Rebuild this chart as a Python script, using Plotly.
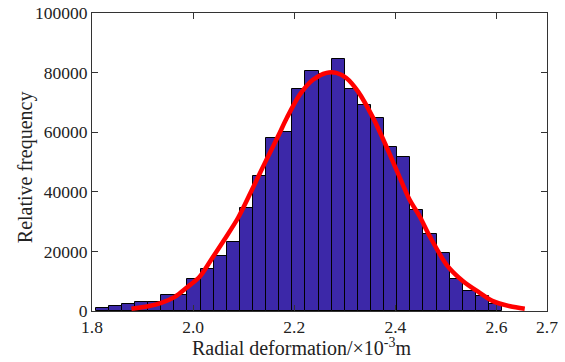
import plotly.graph_objects as go

# Histogram: bin edges start and width (x in 10^-3 m)
bin_start = 1.8073
bin_width = 0.02593
counts = [1070, 1600, 2200, 3100, 3100, 5500, 5500, 10900, 14000, 18600,
          23200, 34600, 45400, 58200, 60100, 74500, 80600, 79500, 84600, 74500,
          69000, 64800, 55100, 51600, 33800, 25900, 19500, 10800, 6600, 5200, 2500]
bin_centers = [round(bin_start + bin_width * (i + 0.5), 5) for i in range(len(counts))]

# Fitted density curve
fit_x = [1.878, 1.911, 1.937, 1.964, 1.987, 2.013, 2.036, 2.062, 2.089, 2.115,
         2.142, 2.168, 2.186, 2.211, 2.237, 2.264, 2.283, 2.303, 2.326, 2.356,
         2.382, 2.405, 2.428, 2.448, 2.468, 2.501, 2.534, 2.567, 2.593, 2.627, 2.656]
fit_y = [740, 1600, 2750, 4760, 7800, 11500, 17300, 24000, 31300, 40200,
         49700, 58600, 65000, 72600, 77600, 79900, 79900, 78200, 73700, 64800,
         55300, 46300, 37400, 31800, 25100, 15600, 10000, 6100, 3300, 1600, 740]

x_ticks = [1.8, 2.0, 2.2, 2.4, 2.6, 2.7]
x_tick_text = ["1.8", "2.0", "2.2", "2.4", "2.6", "2.7"]
y_ticks = [0, 20000, 40000, 60000, 80000, 100000]
x_title = "Radial deformation/×10<sup>-3</sup>m"
y_title = "Relative frequency"

font_family = "Liberation Serif, Times New Roman, serif"

fig = go.Figure()
fig.add_trace(go.Bar(
    x=bin_centers, y=counts, width=bin_width,
    marker=dict(color="rgb(60,40,168)", line=dict(color="black", width=1)),
    showlegend=False,
))
fig.add_trace(go.Scatter(
    x=fit_x, y=fit_y, mode="lines",
    line=dict(color="rgb(255,0,0)", width=4.5, shape="spline", smoothing=0.8),
    showlegend=False,
))

fig.update_layout(
    width=565, height=362,
    margin=dict(l=92, r=18, t=13, b=51, autoexpand=False),
    paper_bgcolor="white", plot_bgcolor="white",
    font=dict(family=font_family, size=17.5, color="#222"),
    bargap=0,
    xaxis=dict(
        range=[1.8, 2.7], tickvals=x_ticks, ticktext=x_tick_text,
        ticks="inside", ticklen=6, tickcolor="#333", tickwidth=1,
        showline=True, linecolor="#333", linewidth=1, mirror="ticks",
        showgrid=False, zeroline=False, automargin=False,
    ),
    yaxis=dict(
        range=[0, 100000], tickvals=y_ticks,
        ticks="inside", ticklen=6, tickcolor="#333", tickwidth=1,
        showline=True, linecolor="#333", linewidth=1, mirror="ticks",
        showgrid=False, zeroline=False, tickformat="d", automargin=False,
    ),
    annotations=[
        dict(text=x_title, xref="paper", yref="paper", x=0.4615, y=-0.122,
             xanchor="center", yanchor="middle", showarrow=False,
             font=dict(size=20)),
        dict(text=y_title, xref="paper", yref="paper", x=-0.147, y=0.483,
             xanchor="center", yanchor="middle", showarrow=False, textangle=-90,
             font=dict(size=20)),
    ],
)

fig.write_html("out.html", config={"displayModeBar": False},
               post_script="document.body.style.margin='0';")
